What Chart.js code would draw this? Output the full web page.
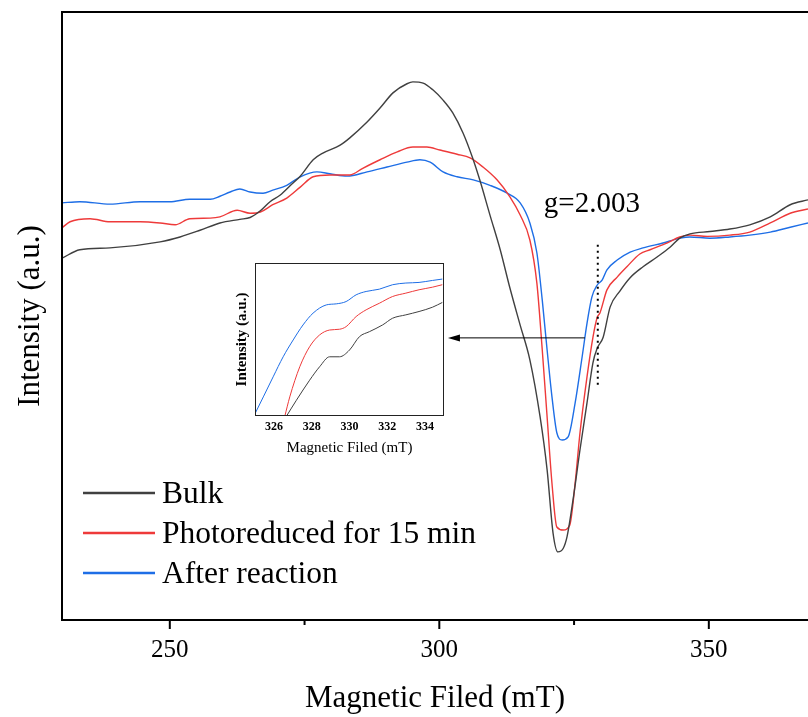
<!DOCTYPE html>
<html>
<head>
<meta charset="utf-8">
<title>EPR spectra</title>
<script src="https://cdn.jsdelivr.net/npm/chart.js@4.4.1/dist/chart.umd.min.js"></script>
<style>
  body { margin: 0; background: #fff; }
  #wrap { position: relative; width: 808px; height: 717px; }
  #main { position: absolute; left: 0; top: 0; }
  #inset { position: absolute; left: 226px; top: 254px; }
</style>
</head>
<body>
<div id="wrap">
  <canvas id="main" width="808" height="717"></canvas>
  <canvas id="inset" width="220" height="206"></canvas>
</div>
<script>
// main spectra, field in mT, intensity in a.u.
const bulkField = [230.0, 233.3, 238.9, 248.2, 251.9, 255.6, 259.3, 263.0, 264.9, 266.8, 268.6, 270.5, 272.4, 274.2, 276.6, 278.4, 281.6, 283.4, 286.6, 289.0, 291.4, 294.0, 295.1, 297.0, 298.8, 300.7, 302.5, 304.4, 306.1, 307.5, 309.4, 311.3, 313.1, 315.0, 316.8, 318.7, 320.0, 321.1, 322.0, 323.0, 323.7, 324.8, 326.1, 327.4, 328.5, 329.3, 330.4, 331.7, 333.5, 335.4, 337.8, 340.4, 342.8, 344.6, 346.5, 350.2, 353.9, 357.6, 361.4, 365.1, 368.4];
const bulkIntensity = [59.5, 60.9, 61.2, 62.2, 63.0, 64.1, 65.3, 65.9, 66.2, 67.3, 68.8, 69.9, 71.5, 73.0, 75.7, 76.8, 78.1, 79.3, 81.9, 84.2, 86.7, 88.2, 88.5, 88.3, 87.2, 85.5, 83.4, 80.1, 76.2, 72.4, 66.6, 60.9, 54.6, 48.5, 42.8, 33.4, 24.7, 14.3, 11.2, 11.8, 13.7, 19.7, 28.0, 35.7, 42.3, 44.7, 46.5, 51.5, 54.1, 56.3, 58.1, 59.7, 61.3, 62.8, 63.5, 63.9, 64.3, 65.0, 66.3, 68.3, 69.1];

const photoField = [230.0, 231.5, 235.2, 238.9, 244.5, 248.2, 251.0, 253.7, 257.5, 259.3, 262.5, 264.9, 266.8, 269.1, 271.7, 274.2, 276.6, 279.7, 283.4, 285.8, 289.0, 292.2, 295.1, 297.7, 300.1, 303.3, 305.7, 308.1, 310.7, 313.1, 315.0, 316.8, 318.1, 319.1, 320.0, 320.9, 321.8, 323.0, 324.2, 325.2, 326.1, 327.4, 328.5, 329.3, 329.8, 331.1, 333.0, 334.8, 337.2, 339.1, 342.2, 344.6, 346.5, 349.7, 353.9, 357.6, 361.4, 365.1, 368.4];
const photoIntensity = [64.5, 65.5, 66.0, 65.5, 65.5, 65.3, 65.0, 66.0, 66.1, 66.3, 67.4, 66.9, 67.1, 68.3, 69.4, 71.2, 72.9, 73.2, 73.2, 74.3, 75.7, 77.0, 77.8, 77.8, 77.3, 76.6, 76.0, 74.5, 72.4, 69.6, 66.6, 62.5, 55.4, 44.4, 33.4, 22.5, 15.3, 14.8, 15.6, 22.5, 30.8, 40.0, 46.5, 49.8, 50.5, 54.3, 56.4, 58.1, 60.2, 60.9, 62.0, 63.0, 63.3, 63.1, 63.3, 63.8, 65.3, 66.9, 67.6];

const afterField = [230.0, 233.3, 238.9, 244.5, 250.0, 253.7, 257.5, 259.3, 261.2, 263.0, 264.9, 267.3, 269.1, 271.7, 274.2, 277.3, 279.7, 282.9, 286.6, 290.3, 294.0, 296.4, 298.3, 300.7, 303.3, 306.3, 309.4, 312.6, 315.0, 316.8, 318.1, 319.1, 320.0, 320.9, 321.8, 322.8, 323.9, 325.2, 326.5, 327.4, 328.3, 329.3, 330.2, 331.1, 333.0, 335.4, 337.8, 341.5, 344.7, 346.5, 350.2, 353.9, 357.6, 361.4, 365.1, 368.4];
const afterIntensity = [68.6, 68.8, 68.4, 68.8, 68.8, 69.2, 69.2, 69.7, 70.4, 70.9, 70.4, 70.2, 70.7, 71.5, 72.9, 73.7, 73.4, 73.0, 73.7, 74.5, 75.3, 75.7, 75.3, 73.7, 72.9, 72.4, 71.5, 70.2, 68.6, 65.3, 60.4, 52.6, 44.4, 36.7, 30.8, 29.6, 30.1, 35.7, 43.3, 48.8, 53.1, 55.1, 55.9, 57.6, 59.2, 60.5, 61.2, 62.0, 62.8, 63.0, 62.8, 63.0, 63.3, 63.8, 64.6, 65.3];

// inset, zoomed 325-335 mT
const insetBulkField = [326.67, 327.19, 327.89, 328.42, 328.95, 329.47, 330.0, 330.53, 331.05, 331.75, 332.28, 332.98, 333.68, 334.39, 334.91];
const insetBulkIntensity = [0, 10.3, 23.4, 32.2, 38.7, 38.7, 43.1, 51.9, 55.1, 59.5, 63.9, 66.1, 68.3, 71.1, 74.2];
const insetPhotoField = [326.58, 326.84, 327.37, 327.89, 328.42, 328.95, 329.47, 329.82, 330.35, 330.88, 331.58, 332.28, 332.98, 333.68, 334.39, 334.91];
const insetPhotoIntensity = [0, 12.5, 32.2, 45.3, 53.0, 56.2, 56.7, 58.4, 65.0, 69.4, 73.7, 78.1, 80.3, 82.5, 84.2, 85.8];
const insetAfterField = [325.0, 325.44, 325.96, 326.49, 327.02, 327.54, 328.07, 328.77, 329.3, 329.82, 330.35, 330.88, 331.58, 332.28, 332.98, 333.68, 334.39, 334.91];
const insetAfterIntensity = [1.5, 12.5, 25.6, 38.7, 49.7, 59.5, 67.2, 72.6, 73.3, 74.8, 79.2, 81.4, 82.9, 85.8, 86.9, 87.3, 88.6, 89.5];

const seriesLabels = ['Bulk', 'Photoreduced for 15 min', 'After reaction'];
const seriesColors = ['#404040', '#ee3a3a', '#1e6ee6'];

const xTicks = [250, 275, 300, 325, 350];
const xLabels = [250, 300, 350];
const insetTicks = [326, 328, 330, 332, 334];

const gField = 329.4;
const gLabel = 'g=2.003';

const serif = "'Liberation Serif', 'Times New Roman', serif";

function toPoints(xs, ys) {
    return xs.map((x, i) => ({ x: x, y: ys[i] }));
}

function makeDataset(label, color, xs, ys, width) {
    return {
        label: label,
        data: toPoints(xs, ys),
        borderColor: color,
        borderWidth: width,
        pointRadius: 0,
        fill: false,
        cubicInterpolationMode: 'monotone'
    };
}

const framePlugin = {
    id: 'framePlugin',
    afterDraw(chart) {
        const { ctx, chartArea: { left, right, top, bottom }, scales: { x, y } } = chart;
        ctx.save();
        ctx.strokeStyle = '#000';
        ctx.lineWidth = 2;
        ctx.beginPath();
        ctx.moveTo(right + 2, top);
        ctx.lineTo(left, top);
        ctx.lineTo(left, bottom);
        ctx.lineTo(right + 2, bottom);
        ctx.stroke();

        // tick marks below the axis
        xTicks.forEach(v => {
            const px = x.getPixelForValue(v);
            const len = xLabels.includes(v) ? 9 : 5;
            ctx.beginPath();
            ctx.moveTo(px, bottom);
            ctx.lineTo(px, bottom + len);
            ctx.stroke();
        });

        // dotted g marker
        const gx = x.getPixelForValue(gField);
        ctx.setLineDash([2, 4]);
        ctx.beginPath();
        ctx.moveTo(gx, y.getPixelForValue(61.7));
        ctx.lineTo(gx, y.getPixelForValue(38.7));
        ctx.stroke();
        ctx.setLineDash([]);

        ctx.fillStyle = '#000';
        ctx.font = '29px ' + serif;
        ctx.textAlign = 'center';
        ctx.textBaseline = 'middle';
        ctx.fillText(gLabel, x.getPixelForValue(328.3), y.getPixelForValue(68.3));

        // arrow pointing to the inset
        const ay = y.getPixelForValue(46.4);
        const ax0 = x.getPixelForValue(327.0);
        const ax1 = x.getPixelForValue(301.6);
        ctx.lineWidth = 1;
        ctx.beginPath();
        ctx.moveTo(ax0, ay);
        ctx.lineTo(ax1 + 8, ay);
        ctx.stroke();
        ctx.beginPath();
        ctx.moveTo(ax1, ay);
        ctx.lineTo(ax1 + 12, ay - 3.5);
        ctx.lineTo(ax1 + 12, ay + 3.5);
        ctx.closePath();
        ctx.fill();

        // legend
        ctx.font = '31.5px ' + serif;
        ctx.textAlign = 'left';
        chart.data.datasets.forEach((ds, i) => {
            const ly = 493 + i * 40;
            ctx.strokeStyle = ds.borderColor;
            ctx.lineWidth = 2.5;
            ctx.beginPath();
            ctx.moveTo(left + 21, ly);
            ctx.lineTo(left + 93, ly);
            ctx.stroke();
            ctx.fillStyle = '#000';
            ctx.fillText(ds.label, left + 100, ly + 2);
        });
        ctx.restore();
    }
};

new Chart(document.getElementById('main'), {
    type: 'line',
    data: {
        datasets: [
            makeDataset(seriesLabels[0], seriesColors[0], bulkField, bulkIntensity, 1.4),
            makeDataset(seriesLabels[1], seriesColors[1], photoField, photoIntensity, 1.4),
            makeDataset(seriesLabels[2], seriesColors[2], afterField, afterIntensity, 1.4)
        ]
    },
    options: {
        responsive: false,
        animation: false,
        layout: { padding: { top: 12, right: 0, left: 0, bottom: 0 } },
        plugins: { legend: { display: false }, tooltip: { enabled: false } },
        scales: {
            x: {
                type: 'linear',
                min: 230,
                max: 368.4,
                afterBuildTicks: s => { s.ticks = xTicks.map(v => ({ value: v })); },
                afterFit: s => { s.height = 97; },
                grid: { display: false, drawTicks: false },
                border: { display: false },
                ticks: {
                    color: '#000',
                    padding: 15,
                    maxRotation: 0,
                    autoSkip: false,
                    font: { family: serif, size: 25 },
                    callback: v => xLabels.includes(v) ? String(v) : ''
                },
                title: {
                    display: true,
                    text: 'Magnetic Filed (mT)',
                    color: '#000',
                    font: { family: serif, size: 31 },
                    padding: { top: 0, bottom: 0 }
                }
            },
            y: {
                min: 0,
                max: 100,
                afterFit: s => { s.width = 62; },
                grid: { display: false, drawTicks: false },
                border: { display: false },
                ticks: { display: false },
                title: {
                    display: true,
                    text: 'Intensity (a.u.)',
                    color: '#000',
                    font: { family: serif, size: 31 },
                    padding: { top: 12, bottom: 0 }
                }
            }
        }
    },
    plugins: [framePlugin]
});

const insetFramePlugin = {
    id: 'insetFramePlugin',
    afterDraw(chart) {
        const { ctx, chartArea: { left, right, top, bottom } } = chart;
        ctx.save();
        ctx.strokeStyle = '#222';
        ctx.lineWidth = 1;
        ctx.strokeRect(left + 0.5, top + 0.5, right - left - 1, bottom - top - 1);
        ctx.restore();
    }
};

new Chart(document.getElementById('inset'), {
    type: 'line',
    data: {
        datasets: [
            makeDataset(seriesLabels[0], seriesColors[0], insetBulkField, insetBulkIntensity, 1),
            makeDataset(seriesLabels[1], seriesColors[1], insetPhotoField, insetPhotoIntensity, 1),
            makeDataset(seriesLabels[2], seriesColors[2], insetAfterField, insetAfterIntensity, 1)
        ]
    },
    options: {
        responsive: false,
        animation: false,
        layout: { padding: { top: 9, right: 2, left: 0, bottom: 0 } },
        plugins: { legend: { display: false }, tooltip: { enabled: false } },
        scales: {
            x: {
                type: 'linear',
                min: 325,
                max: 335,
                afterBuildTicks: s => { s.ticks = insetTicks.map(v => ({ value: v })); },
                afterFit: s => { s.height = 44; },
                grid: { display: false, drawTicks: false },
                border: { display: false },
                ticks: {
                    color: '#000',
                    padding: 4,
                    maxRotation: 0,
                    autoSkip: false,
                    font: { family: serif, size: 12, weight: 'bold' }
                },
                title: {
                    display: true,
                    text: 'Magnetic Filed (mT)',
                    color: '#000',
                    font: { family: serif, size: 15 },
                    padding: { top: 0, bottom: 3 }
                }
            },
            y: {
                min: 0,
                max: 100,
                afterFit: s => { s.width = 29; },
                grid: { display: false, drawTicks: false },
                border: { display: false },
                ticks: { display: false },
                title: {
                    display: true,
                    text: 'Intensity (a.u.)',
                    color: '#000',
                    font: { family: serif, size: 15, weight: 'bold' },
                    padding: { top: 7, bottom: 0 }
                }
            }
        }
    },
    plugins: [insetFramePlugin]
});
</script>
</body>
</html>
